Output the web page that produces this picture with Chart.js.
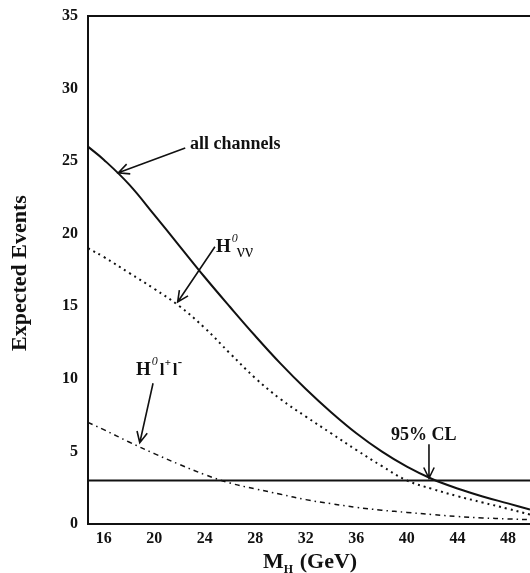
<!DOCTYPE html>
<html>
<head>
<meta charset="utf-8">
<script src="https://cdn.jsdelivr.net/npm/chart.js@4/dist/chart.umd.min.js"></script>
<style>
  body { margin: 0; background: #fff; }
  #wrap { width: 530px; height: 573px; }
</style>
</head>
<body>
<div id="wrap"><canvas id="myChart" width="530" height="573"></canvas></div>
<script>
// values
var massGeV     = [14.75, 16, 18, 20, 22, 24, 26, 28, 30, 32, 34, 36, 38, 40, 42, 44, 46, 48, 49.75];
var allChannels = [26.0, 25.1, 23.4, 21.3, 19.15, 17.0, 14.95, 12.95, 11.05, 9.3, 7.7, 6.25, 5.0, 3.95, 3.1, 2.45, 1.9, 1.42, 1.0];
var hNuNu       = [19.0, 18.4, 17.3, 16.2, 15.0, 13.5, 11.75, 10.05, 8.6, 7.4, 6.25, 5.1, 4.0, 3.0, 2.42, 1.92, 1.48, 1.05, 0.65];
var hLL         = [7.0, 6.5, 5.65, 4.85, 4.1, 3.4, 2.82, 2.42, 2.05, 1.68, 1.4, 1.15, 0.95, 0.8, 0.65, 0.52, 0.42, 0.35, 0.3];
var clLevel = 3;
var xTicks = [16, 20, 24, 28, 32, 36, 40, 44, 48];
var yTicks = [0, 5, 10, 15, 20, 25, 30, 35];

function pts(ys) {
  return ys.map(function(v, i) { return {x: massGeV[i], y: v}; });
}

var serif = "'Liberation Serif', 'DejaVu Serif', serif";

function arrow(ctx, x1, y1, x2, y2) {
  var a = Math.atan2(y2 - y1, x2 - x1);
  var L = 12, w = 0.45;
  ctx.beginPath();
  ctx.moveTo(x1, y1);
  ctx.lineTo(x2, y2);
  ctx.moveTo(x2 - L * Math.cos(a - w), y2 - L * Math.sin(a - w));
  ctx.lineTo(x2, y2);
  ctx.lineTo(x2 - L * Math.cos(a + w), y2 - L * Math.sin(a + w));
  ctx.stroke();
}

var decorations = {
  id: 'decorations',
  afterDraw: function(chart) {
    var ctx = chart.ctx, xs = chart.scales.x, ys = chart.scales.y, ca = chart.chartArea;
    function X(v) { return xs.getPixelForValue(v); }
    function Y(v) { return ys.getPixelForValue(v); }
    ctx.save();
    ctx.strokeStyle = '#111';
    ctx.fillStyle = '#111';
    // top frame line
    ctx.lineWidth = 2;
    ctx.beginPath();
    ctx.moveTo(ca.left, ca.top);
    ctx.lineTo(ca.right, ca.top);
    ctx.stroke();

    // arrows
    ctx.lineWidth = 1.6;
    arrow(ctx, X(22.45), Y(25.9), X(17.15), Y(24.2));
    arrow(ctx, X(24.8), Y(19.1), X(21.85), Y(15.3));
    arrow(ctx, X(19.9), Y(9.7), X(18.85), Y(5.6));
    arrow(ctx, X(41.75), Y(5.5), X(41.75), Y(3.15));

    // labels
    ctx.textBaseline = 'alphabetic';
    ctx.textAlign = 'left';
    ctx.font = 'bold 18px ' + serif;
    ctx.fillText('all channels', 190, 149);
    ctx.fillText('95% CL', 391, 440);

    // H0 nu nu
    ctx.font = 'bold 19px ' + serif;
    ctx.fillText('H', 216, 252);
    var hw = ctx.measureText('H').width;
    ctx.font = 'italic 12px ' + serif;
    ctx.fillText('0', 216 + hw + 1, 242);
    ctx.font = '18px ' + serif;
    ctx.fillText('\u03bd\u03bd', 216 + hw + 6, 257);

    // H0 l+ l-
    ctx.font = 'bold 19px ' + serif;
    ctx.fillText('H', 136, 375);
    ctx.font = 'italic 12px ' + serif;
    ctx.fillText('0', 136 + hw + 1, 365);
    ctx.font = 'bold 17px ' + serif;
    ctx.fillText('l', 136 + hw + 9, 375);
    ctx.font = 'bold 11px ' + serif;
    ctx.fillText('+', 136 + hw + 14, 366);
    ctx.font = 'bold 17px ' + serif;
    ctx.fillText('l', 136 + hw + 22, 375);
    ctx.font = 'bold 13px ' + serif;
    ctx.fillText('-', 136 + hw + 27, 366);

    // x axis title M_H (GeV)
    ctx.font = 'bold 22px ' + serif;
    ctx.fillText('M', 263, 568);
    var mw = ctx.measureText('M').width;
    ctx.font = 'bold 12px ' + serif;
    ctx.fillText('H', 263 + mw, 573);
    ctx.font = 'bold 22px ' + serif;
    ctx.fillText('(GeV)', 263 + mw + 16, 568);

    // y axis title
    ctx.translate(26, 273);
    ctx.rotate(-Math.PI / 2);
    ctx.textAlign = 'center';
    ctx.font = 'bold 22px ' + serif;
    ctx.fillText('Expected Events', 0, 0);
    ctx.restore();
  }
};

var lineBase = {
  pointRadius: 0,
  borderColor: '#111',
  fill: false,
  tension: 0.4
};

var config = {
  type: 'line',
  data: {
    datasets: [
      Object.assign({label: 'all channels', data: pts(allChannels), borderWidth: 2}, lineBase),
      Object.assign({label: 'H0nunu', data: pts(hNuNu), borderWidth: 2, borderDash: [2, 4]}, lineBase),
      Object.assign({label: 'H0ll', data: pts(hLL), borderWidth: 1.5, borderDash: [5, 4, 1.5, 4]}, lineBase),
      Object.assign({label: '95% CL', data: [{x: 14.75, y: clLevel}, {x: 49.75, y: clLevel}], borderWidth: 2}, lineBase)
    ]
  },
  options: {
    responsive: false,
    animation: false,
    layout: { padding: { top: 16, right: 0, left: 0, bottom: 0 } },
    plugins: {
      legend: { display: false },
      tooltip: { enabled: false }
    },
    scales: {
      x: {
        type: 'linear',
        min: 14.75,
        max: 49.75,
        afterBuildTicks: function(s) { s.ticks = xTicks.map(function(v) { return {value: v}; }); },
        afterFit: function(s) { s.height = 49; s.paddingLeft = 0; s.paddingRight = 0; },
        grid: { display: false, drawTicks: false },
        border: { display: true, color: '#111', width: 2 },
        ticks: { color: '#111', padding: 5, font: { family: serif, size: 16, weight: 'bold' } }
      },
      y: {
        min: 0,
        max: 35,
        afterBuildTicks: function(s) { s.ticks = yTicks.map(function(v) { return {value: v}; }); },
        afterFit: function(s) { s.width = 88; s.paddingTop = 0; s.paddingBottom = 0; },
        grid: { display: false, drawTicks: false },
        border: { display: true, color: '#111', width: 2 },
        ticks: { color: '#111', padding: 10, font: { family: serif, size: 16, weight: 'bold' } }
      }
    }
  },
  plugins: [decorations]
};

var myChart = new Chart(document.getElementById('myChart'), config);
</script>
</body>
</html>
